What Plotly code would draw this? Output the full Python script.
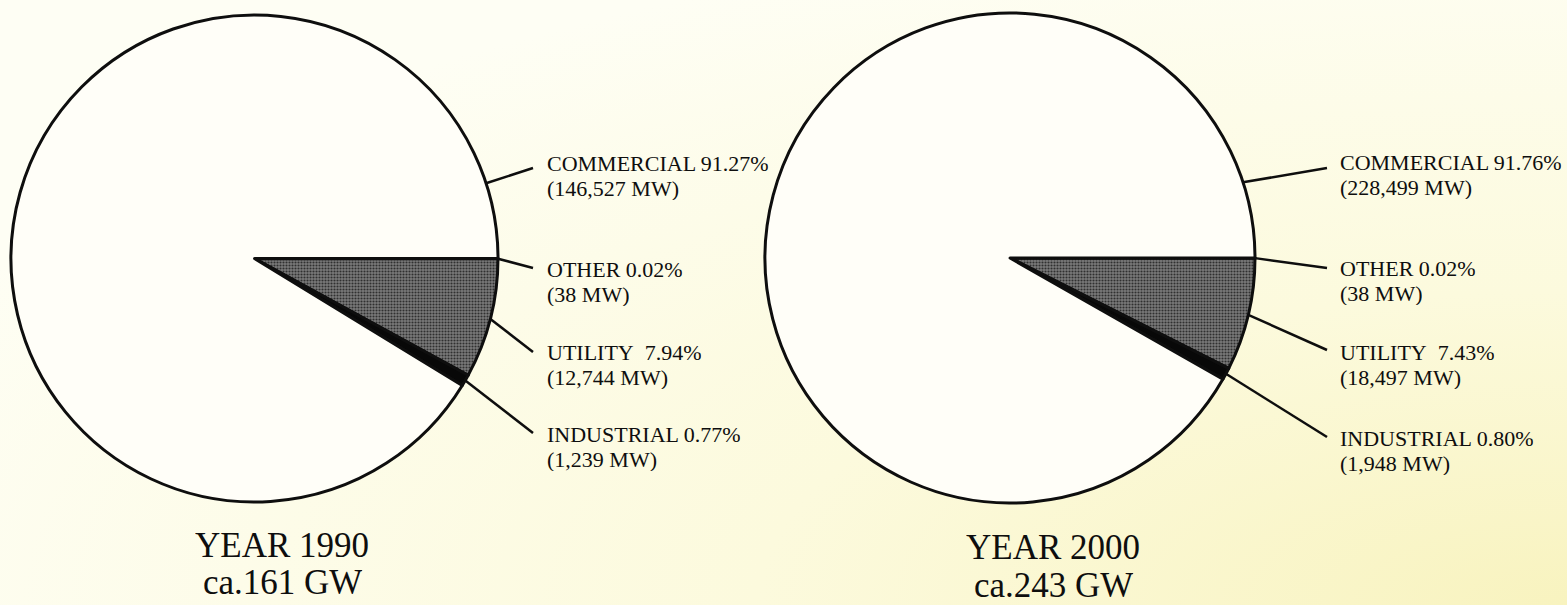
import base64
import math

import plotly.graph_objects as go

# ---- data -------------------------------------------------------------
categories = ["OTHER", "UTILITY", "INDUSTRIAL", "COMMERCIAL"]
years = ["1990", "2000"]
totals_gw = [161, 243]
mw_1990 = [38, 12744, 1239, 146527]
pct_1990 = [0.02, 7.94, 0.77, 91.27]
mw_2000 = [38, 18497, 1948, 228499]
pct_2000 = [0.02, 7.43, 0.80, 91.76]

# ---- page geometry (pixels) ------------------------------------------
W, H = 1567, 605
FONT = "Liberation Serif, Times New Roman, serif"
INK = "#0e0e0e"

slice_colors = {
    "OTHER": "#0a0a0a",
    "UTILITY": "#6c6c6c",
    "INDUSTRIAL": "#080808",
    "COMMERCIAL": "#fffef8",
}

panels = [
    dict(year=years[0], total=totals_gw[0], mw=mw_1990, pct=pct_1990,
         cx=254.5, cy=258.5, r=243.5,
         tail_x=533, text_x=545,
         label_y={"COMMERCIAL": 163, "OTHER": 269, "UTILITY": 352, "INDUSTRIAL": 434},
         tail_y={"COMMERCIAL": 168, "OTHER": 268, "UTILITY": 352, "INDUSTRIAL": 433},
         title_x=282, title_y=(545, 582)),
    dict(year=years[1], total=totals_gw[1], mw=mw_2000, pct=pct_2000,
         cx=1010, cy=258, r=245,
         tail_x=1327, text_x=1338,
         label_y={"COMMERCIAL": 162, "OTHER": 268, "UTILITY": 352, "INDUSTRIAL": 438},
         tail_y={"COMMERCIAL": 168, "OTHER": 268, "UTILITY": 350, "INDUSTRIAL": 437},
         title_x=1053, title_y=(547, 585)),
]
LINE_GAP = 25          # distance between the two lines of a slice label
COMMERCIAL_ANGLE = 18  # where the commercial leader touches the rim (deg above 3 o'clock)


def px(x):
    return x / W


def py(y):
    return 1 - y / H


fig = go.Figure()
shapes = []
annotations = []

for p in panels:
    # pie placed so that its centre and radius land on the wanted pixels
    dom_x = [px(p["cx"] - p["r"]), px(p["cx"] + p["r"])]
    dom_y = [py(p["cy"] + p["r"]), py(p["cy"] - p["r"])]
    fig.add_trace(go.Pie(
        labels=categories,
        values=p["mw"],
        sort=False,
        direction="clockwise",
        rotation=90,
        textinfo="none",
        hoverinfo="label+value+percent",
        showlegend=False,
        domain=dict(x=dom_x, y=dom_y),
        marker=dict(
            colors=[slice_colors[c] for c in categories],
            line=dict(color=INK, width=3),
            pattern=dict(
                shape=["", ".", "", ""],
                fgcolor="#303030",
                bgcolor="#7a7a7a",
                size=3,
                solidity=0.4,
                fillmode="replace",
            ),
        ),
    ))

    # slice mid-angles (degrees clockwise from 3 o'clock)
    total = sum(p["mw"])
    start = 0.0
    mid = {}
    for c, v in zip(categories, p["mw"]):
        span = v / total * 360
        mid[c] = start + span / 2
        start += span
    mid["COMMERCIAL"] = -COMMERCIAL_ANGLE

    for c, share, mw in zip(categories, p["pct"], p["mw"]):
        a = math.radians(mid[c])
        x0 = p["cx"] + p["r"] * math.cos(a)
        y0 = p["cy"] + p["r"] * math.sin(a)
        shapes.append(dict(
            type="line", xref="paper", yref="paper",
            x0=px(x0), y0=py(y0), x1=px(p["tail_x"]), y1=py(p["tail_y"][c]),
            line=dict(color=INK, width=2.5),
        ))
        sep = "\u00a0 " if c == "UTILITY" else " "
        lines = [f"{c}{sep}{share:.2f}%", f"({mw:,} MW)"]
        for i, t in enumerate(lines):
            annotations.append(dict(
                text=t, xref="paper", yref="paper",
                x=px(p["text_x"]), y=py(p["label_y"][c] + i * LINE_GAP),
                xanchor="left", yanchor="middle", showarrow=False,
                height=24, valign="middle",
                font=dict(family=FONT, size=22, color=INK),
            ))

    for t, yy in zip([f"YEAR {p['year']}", f"ca.{p['total']} GW"], p["title_y"]):
        annotations.append(dict(
            text=t, xref="paper", yref="paper",
            x=px(p["title_x"]), y=py(yy),
            xanchor="center", yanchor="middle", showarrow=False,
            height=32, valign="middle",
            font=dict(family=FONT, size=35, color=INK),
        ))

# warm paper tone, yellowing towards the lower right
bg_svg = (
    f'<svg xmlns="http://www.w3.org/2000/svg" width="{W}" height="{H}" '
    f'viewBox="0 0 {W} {H}" preserveAspectRatio="none">'
    '<defs><radialGradient id="g" cx="1" cy="1" r="1.15">'
    '<stop offset="0" stop-color="#f8f3bf"/>'
    '<stop offset="0.45" stop-color="#fcfadd"/>'
    '<stop offset="1" stop-color="#fefef4"/>'
    '</radialGradient></defs>'
    f'<rect width="{W}" height="{H}" fill="url(#g)"/></svg>'
)
bg_src = "data:image/svg+xml;base64," + base64.b64encode(bg_svg.encode()).decode()

fig.update_layout(
    width=W, height=H,
    margin=dict(l=0, r=0, t=0, b=0),
    paper_bgcolor="#fefef2",
    plot_bgcolor="rgba(0,0,0,0)",
    shapes=shapes,
    annotations=annotations,
    images=[dict(
        source=bg_src, xref="paper", yref="paper",
        x=0, y=1, sizex=1, sizey=1, xanchor="left", yanchor="top",
        sizing="stretch", layer="below",
    )],
)

fig.write_html("out.html")
